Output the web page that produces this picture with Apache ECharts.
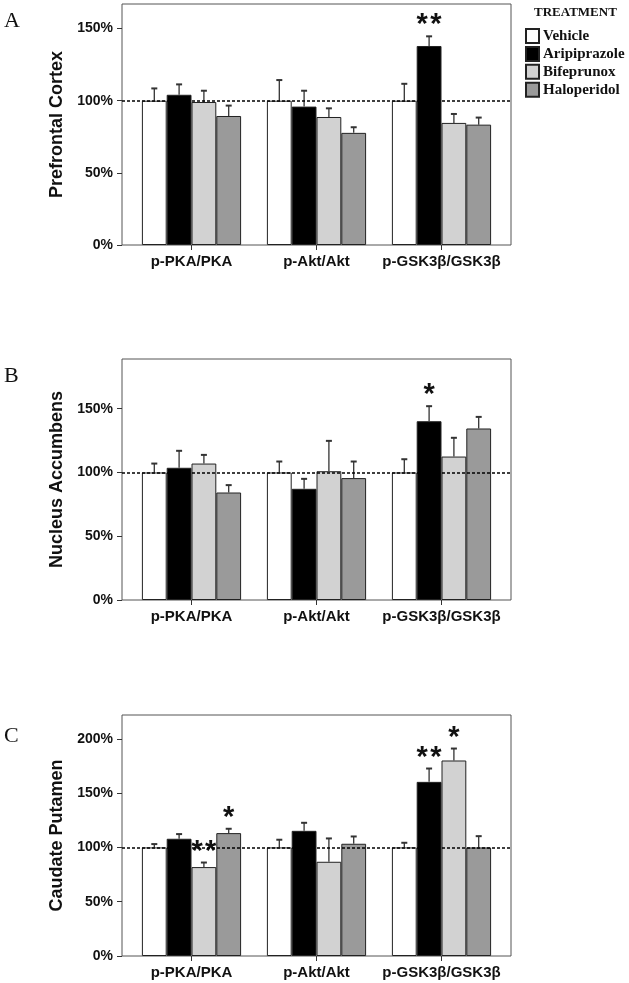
<!DOCTYPE html>
<html>
<head>
<meta charset="utf-8">
<script src="https://cdn.jsdelivr.net/npm/echarts@6/dist/echarts.min.js"></script>
<style>
html,body{margin:0;padding:0;background:#fff;}
#chart{width:629px;height:983px;}
</style>
</head>
<body>
<div id="chart"></div>
<script>
// ---------- data ----------
const categories = ['p-PKA/PKA', 'p-Akt/Akt', 'p-GSK3β/GSK3β'];
const treatments = ['Vehicle', 'Aripiprazole', 'Bifeprunox', 'Haloperidol'];
const yTicks = [0, 50, 100, 150];
const yTicksC = [0, 50, 100, 150, 200];

// A: Prefrontal Cortex
const pfcVehicle = [100, 100, 100];
const pfcVehicleErr = [8.5, 14.3, 11.7];
const pfcAripiprazole = [104.1, 95.9, 137.9];
const pfcAripiprazoleErr = [7.2, 11.0, 6.7];
const pfcBifeprunox = [99.1, 88.7, 84.6];
const pfcBifeprunoxErr = [7.8, 6.0, 6.2];
const pfcHaloperidol = [89.4, 77.7, 83.4];
const pfcHaloperidolErr = [7.2, 3.9, 4.9];
const pfcStars = [['', '', ''], ['', '', '**'], ['', '', ''], ['', '', '']];

// B: Nucleus Accumbens
const nacVehicle = [100, 100, 100];
const nacVehicleErr = [7.0, 8.6, 10.4];
const nacAripiprazole = [103.7, 87.2, 140.2];
const nacAripiprazoleErr = [13.3, 7.8, 11.8];
const nacBifeprunox = [107.0, 101.0, 112.5];
const nacBifeprunoxErr = [6.8, 23.8, 14.7];
const nacHaloperidol = [84.3, 95.6, 134.5];
const nacHaloperidolErr = [5.8, 13.0, 9.1];
const nacStars = [['', '', ''], ['', '', '*'], ['', '', ''], ['', '', '']];

// C: Caudate Putamen
const cpuVehicle = [100, 100, 100];
const cpuVehicleErr = [3.1, 7.1, 4.3];
const cpuAripiprazole = [108.0, 115.3, 160.4];
const cpuAripiprazoleErr = [4.3, 7.4, 12.3];
const cpuBifeprunox = [81.9, 86.8, 180.1];
const cpuBifeprunoxErr = [4.2, 21.5, 11.0];
const cpuHaloperidol = [113.2, 103.4, 100];
const cpuHaloperidolErr = [4.0, 6.7, 10.4];
const cpuStars = [['', '', ''], ['', '', '**'], ['**', '', '*'], ['*', '', '']];

const referenceLevel = 100;

// ---------- layout / style ----------
const panels = [
  { name: 'Prefrontal Cortex', letter: 'A', max: 167, top: 4, ticks: yTicks,
    means: [pfcVehicle, pfcAripiprazole, pfcBifeprunox, pfcHaloperidol],
    errs: [pfcVehicleErr, pfcAripiprazoleErr, pfcBifeprunoxErr, pfcHaloperidolErr],
    stars: pfcStars, letterY: 22 },
  { name: 'Nucleus Accumbens', letter: 'B', max: 189, top: 359, ticks: yTicks,
    means: [nacVehicle, nacAripiprazole, nacBifeprunox, nacHaloperidol],
    errs: [nacVehicleErr, nacAripiprazoleErr, nacBifeprunoxErr, nacHaloperidolErr],
    stars: nacStars, letterY: 377 },
  { name: 'Caudate Putamen', letter: 'C', max: 222, top: 715, ticks: yTicksC,
    means: [cpuVehicle, cpuAripiprazole, cpuBifeprunox, cpuHaloperidol],
    errs: [cpuVehicleErr, cpuAripiprazoleErr, cpuBifeprunoxErr, cpuHaloperidolErr],
    stars: cpuStars, letterY: 737 }
];
const colors = ['#ffffff', '#000000', '#d2d2d2', '#9a9a9a'];
const PH = 241;        // plot height
const BW = 24.8;       // bar width
const SANS = '"Liberation Sans", Arial, sans-serif';
const SERIF = '"Liberation Serif", "Times New Roman", serif';

const grid = [], xAxis = [], yAxis = [], series = [], graphic = [];

panels.forEach((p, pi) => {
  const gF = pi * 2, gD = pi * 2 + 1;
  grid.push({ left: 122, width: 389, top: p.top, height: PH, show: true,
              borderColor: '#555', borderWidth: 1, backgroundColor: 'transparent' });
  grid.push({ left: 129, width: 375, top: p.top, height: PH });
  xAxis.push({ gridIndex: gF, type: 'category', data: ['_'], show: false });
  xAxis.push({ gridIndex: gD, type: 'category', data: categories,
    axisLine: { show: false },
    axisTick: { show: true, alignWithLabel: true, length: 5, lineStyle: { color: '#333', width: 1 } },
    axisLabel: { interval: 0, margin: 9, color: '#111', fontFamily: SANS, fontWeight: 'bold', fontSize: 15 } });
  yAxis.push({ gridIndex: gF, type: 'value', min: 0, max: p.max,
    name: p.name, nameLocation: 'middle', nameGap: 56, nameRotate: 90,
    nameTextStyle: { fontFamily: SANS, fontWeight: 'bold', fontSize: 18, color: '#111' },
    splitLine: { show: false },
    axisLine: { show: false },
    axisTick: { show: true, length: 5, customValues: p.ticks, lineStyle: { color: '#333', width: 1 } },
    axisLabel: { margin: 9, customValues: p.ticks, color: '#111', fontFamily: SANS, fontWeight: 'bold', fontSize: 14,
                 formatter: v => v + '%' } });
  yAxis.push({ gridIndex: gD, type: 'value', min: 0, max: p.max, show: false, splitLine: { show: false } });

  // reference dashed line at 100%
  series.push({ type: 'line', xAxisIndex: gF, yAxisIndex: gF, data: [], z: 1, silent: true,
    markLine: { silent: true, symbol: 'none', label: { show: false },
      lineStyle: { color: '#000', type: [3, 2], width: 1.6 },
      data: [{ yAxis: referenceLevel }] } });

  treatments.forEach((t, k) => {
    series.push({ type: 'bar', name: t, xAxisIndex: gD, yAxisIndex: gD, z: 2,
      barWidth: BW, barGap: '0%', data: p.means[k],
      itemStyle: { color: colors[k], borderColor: '#222', borderWidth: 1 } });
    const starArr = p.stars[k];
    series.push({ type: 'custom', xAxisIndex: gD, yAxisIndex: gD, z: 3, silent: true,
      data: p.means[k].map((m, i) => [i, m, p.errs[k][i]]),
      renderItem: (params, api) => {
        const cat = api.value(0), mean = api.value(1), err = api.value(2);
        const c = api.coord([cat, mean]);
        const tp = api.coord([cat, mean + err]);
        const x = c[0] + (k - 1.5) * BW;
        const children = [
          { type: 'line', shape: { x1: x, y1: c[1], x2: x, y2: tp[1] }, style: { stroke: '#333', lineWidth: 1.3 } },
          { type: 'line', shape: { x1: x - 3, y1: tp[1], x2: x + 3, y2: tp[1] }, style: { stroke: '#333', lineWidth: 2 } }
        ];
        const s = starArr[params.dataIndex];
        if (s) {
          children.push({ type: 'text', x: x, y: tp[1] - 11,
            style: { text: s.split('').join('\u200A'), fill: '#111', fontSize: 29, fontWeight: 'bold', fontFamily: SANS,
                     align: 'center', verticalAlign: 'middle' } });
        }
        return { type: 'group', children };
      } });
  });

  graphic.push({ type: 'text', left: 4, top: p.letterY - 12,
    style: { text: p.letter, fontFamily: SERIF, fontSize: 22, fill: '#111' } });
});

graphic.push({ type: 'text', left: 534, top: 6,
  style: { text: 'TREATMENT', fontFamily: SERIF, fontSize: 13, fontWeight: 'bold', fill: '#111' } });

const chart = echarts.init(document.getElementById('chart'), null, { renderer: 'canvas' });
chart.setOption({
  animation: false,
  backgroundColor: '#fff',
  grid, xAxis, yAxis, series, graphic,
  legend: { data: treatments, orient: 'vertical', left: 525, top: 28, padding: 0,
    itemWidth: 13, itemHeight: 14, itemGap: 1.9,
    icon: 'rect', selectedMode: false,
    textStyle: { fontFamily: SERIF, fontWeight: 'bold', fontSize: 15, lineHeight: 14, color: '#111', padding: [0, 0, 0, -1] } }
});
</script>
</body>
</html>
